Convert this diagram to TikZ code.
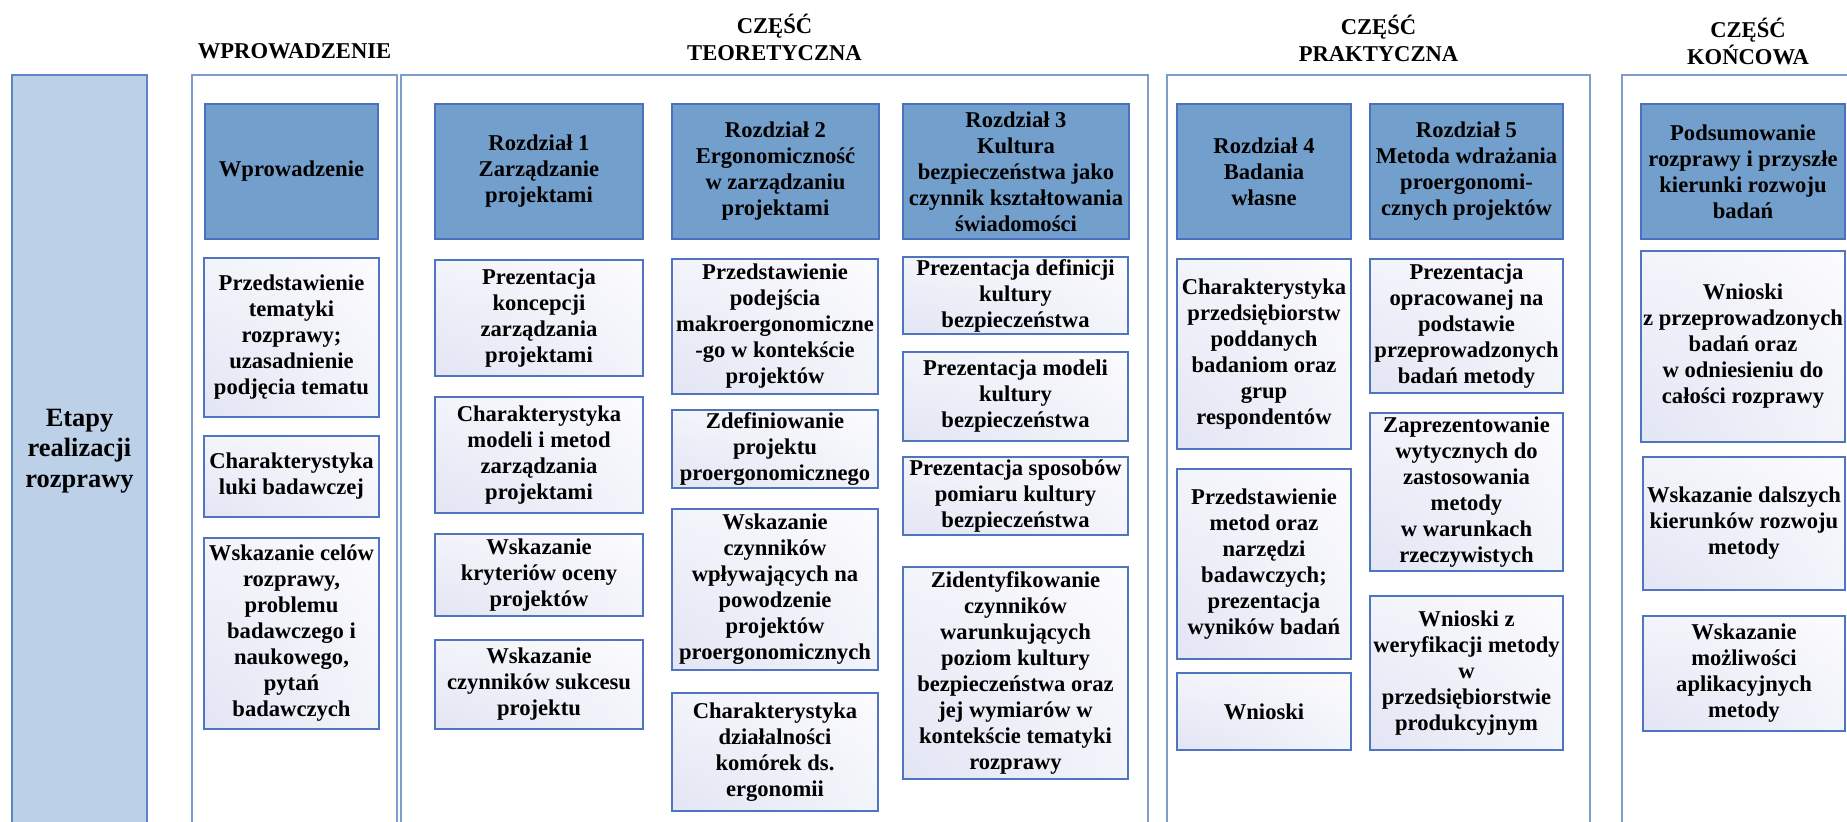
\documentclass[tikz,border=0pt]{standalone}
\usepackage{fontspec}
\setmainfont{Liberation Serif}[BoldFont={Liberation Serif Bold}]
\definecolor{headfill}{HTML}{739FCC}
\definecolor{headline}{HTML}{4A70BE}
\definecolor{subline}{HTML}{4F74C2}
\definecolor{lav}{HTML}{DCDFF1}
\definecolor{frameline}{HTML}{7E9CCC}
\definecolor{stagefill}{HTML}{BCD0E8}
\definecolor{stageline}{HTML}{5F84C6}
% soft lavender glow in the upper left corner of a box, fading to white
% (the picture's y axis points down, so the corner sits at negative y)
\pgfdeclareradialshading{cornerfade}{\pgfpoint{-50bp}{-50bp}}{%
  color(0bp)=(lav); color(12bp)=(lav); color(80bp)=(white); color(170bp)=(white)}
\begin{document}
\begin{tikzpicture}[x=0.5pt,y=-0.5pt,
  box/.style n args={4}{minimum width={(#3-#1)*0.5pt}, minimum height={(#4-#2)*0.5pt},
    at={({(#1+#3)/2},{(#2+#4)/2})}},
  base/.style={rectangle, inner sep=1pt, outer sep=0pt, align=center,
    font=\bfseries\fontsize{11.3}{13}\selectfont},
  head/.style={base, draw=headline, fill=headfill, line width=0.9pt},
  sub/.style={base, draw=subline, line width=0.8pt, shade, shading=cornerfade},
  frame/.style={rectangle, inner sep=0pt, outer sep=0pt, draw=frameline, line width=0.8pt, fill=white},
  title/.style={align=center, inner sep=0pt, font=\bfseries\fontsize{11.3}{13.5}\selectfont}]

\useasboundingbox (0,0) rectangle (1847,822);
\clip (0,0) rectangle (1847,822);

% section titles
\node[title] (tw) at (294.5,51) {WPROWADZENIE};
\node[title] (tt) at (774.5,37) {CZĘŚĆ\\TEORETYCZNA};
\node[title] (tp) at (1378.5,38) {CZĘŚĆ\\PRAKTYCZNA};
\node[title] (tk) at (1748,41) {CZĘŚĆ\\KOŃCOWA};

% stage column
\node[rectangle, draw=stageline, fill=stagefill, line width=0.8pt, align=center,
  font=\bfseries\fontsize{13.2}{15.3}\selectfont, box={12}{75}{147}{827}] (etapy)
  {Etapy\\realizacji\\rozprawy};

% section frames
\node[frame, box={192}{75}{397}{840}] (fw) {};
\node[frame, box={401}{75}{1148}{840}] (ft) {};
\node[frame, box={1167}{75}{1590}{840}] (fp) {};
\node[frame, box={1622}{75}{1880}{840}] (fk) {};

% chapter headers
\node[head, box={205}{104}{378}{239}] (hw) {Wprowadzenie};
\node[head, box={435}{104}{643}{239}] (h1) {Rozdział 1\\Zarządzanie\\projektami};
\node[head, box={672}{104}{879}{239}] (h2) {Rozdział 2\\Ergonomiczność\\w zarządzaniu\\projektami};
\node[head, box={903}{104}{1129}{239}] (h3) {Rozdział 3\\Kultura\\bezpieczeństwa jako\\czynnik kształtowania\\świadomości};
\node[head, box={1177}{104}{1351}{239}] (h4) {Rozdział 4\\Badania\\własne};
\node[head, box={1370}{104}{1563}{239}] (h5) {Rozdział 5\\Metoda wdrażania\\proergonomi-\\cznych projektów};
\node[head, box={1641}{104}{1845}{239}] (hk) {Podsumowanie\\rozprawy i przyszłe\\kierunki rozwoju\\badań};

% introduction
\node[sub, box={204}{258}{379}{417}] (w1) {Przedstawienie\\tematyki\\rozprawy;\\uzasadnienie\\podjęcia tematu};
\node[sub, box={204}{436}{379}{517}] (w2) {Charakterystyka\\luki badawczej};
\node[sub, box={204}{538}{379}{729}] (w3) {Wskazanie celów\\rozprawy,\\problemu\\badawczego i\\naukowego,\\pytań\\badawczych};

% chapter 1
\node[sub, box={435}{260}{643}{376}] (a1) {Prezentacja\\koncepcji\\zarządzania\\projektami};
\node[sub, box={435}{397}{643}{513}] (a2) {Charakterystyka\\modeli i metod\\zarządzania\\projektami};
\node[sub, box={435}{534}{643}{616}] (a3) {Wskazanie\\kryteriów oceny\\projektów};
\node[sub, box={435}{640}{643}{729}] (a4) {Wskazanie\\czynników sukcesu\\projektu};

% chapter 2
\node[sub, box={672}{259}{878}{394}] (b1) {Przedstawienie\\podejścia\\makroergonomiczne\\-go w kontekście\\projektów};
\node[sub, box={672}{410}{878}{488}] (b2) {Zdefiniowanie\\projektu\\proergonomicznego};
\node[sub, box={672}{509}{878}{670}] (b3) {Wskazanie\\czynników\\wpływających na\\powodzenie\\projektów\\proergonomicznych};
\node[sub, box={672}{693}{878}{811}] (b4) {Charakterystyka\\działalności\\komórek ds.\\ergonomii};

% chapter 3
\node[sub, box={903}{259}{1128}{332}] (c1) {Prezentacja definicji\\kultury\\bezpieczeństwa};
\node[sub, box={903}{352}{1128}{441}] (c2) {Prezentacja modeli\\kultury\\bezpieczeństwa};
\node[sub, box={903}{457}{1128}{535}] (c3) {Prezentacja sposobów\\pomiaru kultury\\bezpieczeństwa};
\node[sub, box={903}{567}{1128}{779}] (c4) {Zidentyfikowanie\\czynników\\warunkujących\\poziom kultury\\bezpieczeństwa oraz\\jej wymiarów w\\kontekście tematyki\\rozprawy};

% chapter 4
\node[sub, box={1177}{259}{1351}{449}] (d1) {Charakterystyka\\przedsiębiorstw\\poddanych\\badaniom oraz\\grup\\respondentów};
\node[sub, box={1177}{469}{1351}{659}] (d2) {Przedstawienie\\metod oraz\\narzędzi\\badawczych;\\prezentacja\\wyników badań};
\node[sub, box={1177}{673}{1351}{750}] (d3) {Wnioski};

% chapter 5
\node[sub, box={1370}{259}{1563}{393}] (e1) {Prezentacja\\opracowanej na\\podstawie\\przeprowadzonych\\badań metody};
\node[sub, box={1370}{413}{1563}{571}] (e2) {Zaprezentowanie\\wytycznych do\\zastosowania\\metody\\w warunkach\\rzeczywistych};
\node[sub, box={1370}{596}{1563}{750}] (e3) {Wnioski z\\weryfikacji metody\\w\\przedsiębiorstwie\\produkcyjnym};

% final part
\node[sub, box={1641}{251}{1845}{442}] (k1) {Wnioski\\z przeprowadzonych\\badań oraz\\w odniesieniu do\\całości rozprawy};
\node[sub, box={1643}{457}{1845}{590}] (k2) {Wskazanie dalszych\\kierunków rozwoju\\metody};
\node[sub, box={1643}{616}{1845}{731}] (k3) {Wskazanie\\możliwości\\aplikacyjnych\\metody};
\end{tikzpicture}
\end{document}
